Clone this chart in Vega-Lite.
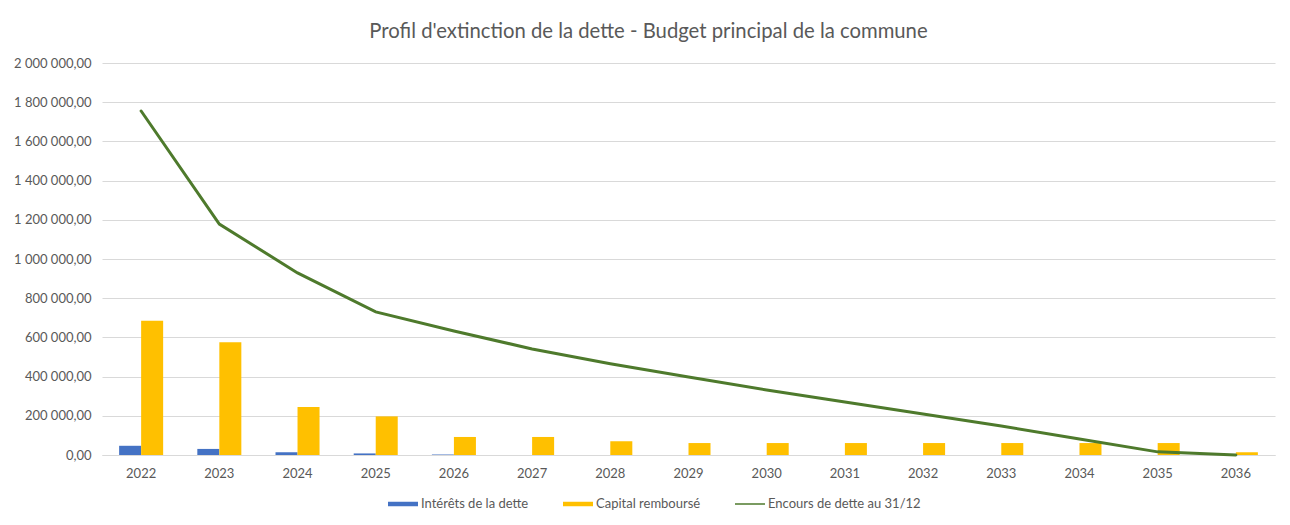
{
  "$schema": "https://vega.github.io/schema/vega-lite/v6.json",
  "autosize": {"type": "none"},
  "padding": {"left": 102, "top": 63, "right": 15, "bottom": 70},
  "width": 1173,
  "height": 392,
  "background": "white",
  "config": {
    "font": "Lato",
    "view": {"stroke": null},
    "locale": {"number": {"decimal": ",", "thousands": "\u00a0", "grouping": [3], "currency": ["", " €"]}}
  },
  "title": {
    "text": "Profil d'extinction de la dette - Budget principal de la commune",
    "font": "Lato",
    "fontSize": 20.3,
    "fontWeight": "normal",
    "color": "#595959",
    "anchor": "middle",
    "dx": -40,
    "offset": 15
  },
  "datasets": {
    "bars": [
      {"annee": "2022", "serie": "Intérêts de la dette", "valeur": 47000},
      {"annee": "2022", "serie": "Capital remboursé", "valeur": 685000},
      {"annee": "2023", "serie": "Intérêts de la dette", "valeur": 31000},
      {"annee": "2023", "serie": "Capital remboursé", "valeur": 575000},
      {"annee": "2024", "serie": "Intérêts de la dette", "valeur": 14000},
      {"annee": "2024", "serie": "Capital remboursé", "valeur": 245000},
      {"annee": "2025", "serie": "Intérêts de la dette", "valeur": 8000},
      {"annee": "2025", "serie": "Capital remboursé", "valeur": 197000},
      {"annee": "2026", "serie": "Intérêts de la dette", "valeur": 2500},
      {"annee": "2026", "serie": "Capital remboursé", "valeur": 92000},
      {"annee": "2027", "serie": "Intérêts de la dette", "valeur": 0},
      {"annee": "2027", "serie": "Capital remboursé", "valeur": 92000},
      {"annee": "2028", "serie": "Intérêts de la dette", "valeur": 0},
      {"annee": "2028", "serie": "Capital remboursé", "valeur": 70000},
      {"annee": "2029", "serie": "Intérêts de la dette", "valeur": 0},
      {"annee": "2029", "serie": "Capital remboursé", "valeur": 61000},
      {"annee": "2030", "serie": "Intérêts de la dette", "valeur": 0},
      {"annee": "2030", "serie": "Capital remboursé", "valeur": 61000},
      {"annee": "2031", "serie": "Intérêts de la dette", "valeur": 0},
      {"annee": "2031", "serie": "Capital remboursé", "valeur": 61000},
      {"annee": "2032", "serie": "Intérêts de la dette", "valeur": 0},
      {"annee": "2032", "serie": "Capital remboursé", "valeur": 61000},
      {"annee": "2033", "serie": "Intérêts de la dette", "valeur": 0},
      {"annee": "2033", "serie": "Capital remboursé", "valeur": 61000},
      {"annee": "2034", "serie": "Intérêts de la dette", "valeur": 0},
      {"annee": "2034", "serie": "Capital remboursé", "valeur": 61000},
      {"annee": "2035", "serie": "Intérêts de la dette", "valeur": 0},
      {"annee": "2035", "serie": "Capital remboursé", "valeur": 61000},
      {"annee": "2036", "serie": "Intérêts de la dette", "valeur": 0},
      {"annee": "2036", "serie": "Capital remboursé", "valeur": 14000}
    ],
    "encours": [
      {"annee": "2022", "serie": "Encours de dette au 31/12", "valeur": 1755000},
      {"annee": "2023", "serie": "Encours de dette au 31/12", "valeur": 1178000},
      {"annee": "2024", "serie": "Encours de dette au 31/12", "valeur": 929000},
      {"annee": "2025", "serie": "Encours de dette au 31/12", "valeur": 730000},
      {"annee": "2026", "serie": "Encours de dette au 31/12", "valeur": 633000},
      {"annee": "2027", "serie": "Encours de dette au 31/12", "valeur": 541000},
      {"annee": "2028", "serie": "Encours de dette au 31/12", "valeur": 466000},
      {"annee": "2029", "serie": "Encours de dette au 31/12", "valeur": 398000},
      {"annee": "2030", "serie": "Encours de dette au 31/12", "valeur": 332000},
      {"annee": "2031", "serie": "Encours de dette au 31/12", "valeur": 270000},
      {"annee": "2032", "serie": "Encours de dette au 31/12", "valeur": 209000},
      {"annee": "2033", "serie": "Encours de dette au 31/12", "valeur": 148000},
      {"annee": "2034", "serie": "Encours de dette au 31/12", "valeur": 82000},
      {"annee": "2035", "serie": "Encours de dette au 31/12", "valeur": 16000},
      {"annee": "2036", "serie": "Encours de dette au 31/12", "valeur": 0}
    ]
  },
  "encoding": {
    "x": {
      "field": "annee",
      "type": "nominal",
      "scale": {"paddingInner": 0.437, "paddingOuter": 0.219},
      "axis": {
        "title": null,
        "labelAngle": 0,
        "labelFont": "Lato",
        "labelFontSize": 13,
        "labelColor": "#595959",
        "labelPadding": 12,
        "ticks": false,
        "domainColor": "#D9D9D9",
        "domainWidth": 1,
        "grid": false
      }
    },
    "y": {
      "field": "valeur",
      "type": "quantitative",
      "scale": {"domain": [0, 2000000], "nice": false},
      "axis": {
        "title": null,
        "values": [0, 200000, 400000, 600000, 800000, 1000000, 1200000, 1400000, 1600000, 1800000, 2000000],
        "format": ",.2f",
        "labelFont": "Lato",
        "labelFontSize": 13,
        "labelColor": "#595959",
        "labelPadding": 11,
        "ticks": false,
        "domain": false,
        "gridColor": "#D9D9D9",
        "gridWidth": 1
      }
    },
    "color": {
      "field": "serie",
      "type": "nominal",
      "scale": {
        "domain": ["Intérêts de la dette", "Capital remboursé", "Encours de dette au 31/12"],
        "range": ["#4472C4", "#FFC000", "#4E7A2C"]
      },
      "legend": {
        "orient": "none",
        "legendX": 286,
        "legendY": 426,
        "direction": "horizontal",
        "title": null,
        "padding": 0,
        "symbolSize": 900,
        "labelOffset": 3,
        "columnPadding": 34,
        "labelFont": "Lato",
        "labelFontSize": 13,
        "labelColor": "#595959",
        "labelLimit": 300,
        "encode": {
          "symbols": {
            "update": {
              "shape": {"signal": "datum.value === 'Encours de dette au 31/12' ? 'M-1,-0.05H1V0.05H-1Z' : 'M-1,-0.15H1V0.15H-1Z'"},
              "fill": {"signal": "datum.value === 'Intérêts de la dette' ? '#4472C4' : datum.value === 'Capital remboursé' ? '#FFC000' : '#4E7A2C'"},
              "stroke": {"value": "transparent"},
              "strokeWidth": {"value": 0},
              "opacity": {"value": 1}
            }
          }
        }
      }
    }
  },
  "layer": [
    {
      "data": {"name": "bars"},
      "mark": {"type": "bar"},
      "encoding": {
        "xOffset": {
          "field": "serie",
          "type": "nominal",
          "scale": {"domain": ["Intérêts de la dette", "Capital remboursé"], "paddingInner": 0, "paddingOuter": 0}
        }
      }
    },
    {
      "data": {"name": "encours"},
      "mark": {"type": "line", "strokeWidth": 3, "strokeCap": "round"},
      "encoding": {}
    }
  ]
}
